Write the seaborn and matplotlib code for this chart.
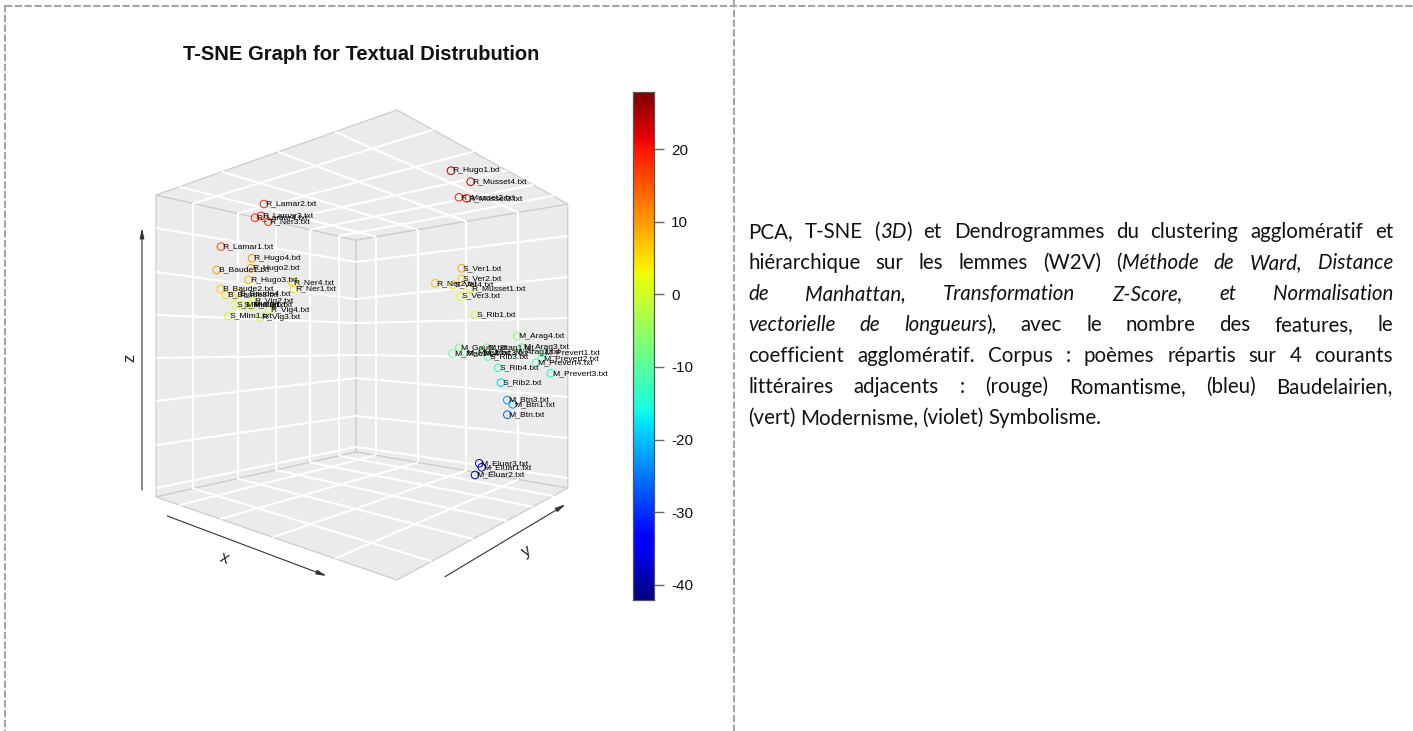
import matplotlib
matplotlib.use("Agg")
import matplotlib.pyplot as plt
import numpy as np
import pandas as pd
import seaborn as sns
from matplotlib.patches import Polygon

# ---------------- data (projected position on the page, t-SNE colour value)
labels = ["R_Lamar2.txt","R_Lamar4.txt","R_Lamar3.txt","R_Ner3.txt","R_Lamar1.txt","R_Hugo4.txt","R_Hugo2.txt",
          "B_Baude1.txt","R_Hugo3.txt","R_Ner4.txt","R_Ner1.txt","B_Baude2.txt","B_Baude3.txt","B_Baude4.txt",
          "R_Vig2.txt","S_Mlm2.txt","S_Mlm3.txt","R_Vig1.txt","R_Vig4.txt","S_Mlm1.txt","R_Vig3.txt",
          "R_Hugo1.txt","R_Musset4.txt","R_Musset2.txt","R_Musset3.txt","S_Ver1.txt","S_Ver2.txt","R_Ner2.txt",
          "S_Ver4.txt","R_Musset1.txt","S_Ver3.txt","S_Rib1.txt","M_Arag4.txt","M_Gaut1.txt","M_Btan1.txt",
          "M_Arag3.txt","M_Mac1.txt","M_Mac2.txt","M_Mac3.txt","S_Rib3.txt","M_Arag2.txt","M_Prevert1.txt",
          "M_Prevert2.txt","M_Prevert4.txt","S_Rib4.txt","M_Prevert3.txt","S_Rib2.txt","M_Btn3.txt","M_Btn1.txt",
          "M_Btn.txt","M_Eluar3.txt","M_Eluar1.txt","M_Eluar2.txt"]
proj_x = [264,255,261,268.3,221,252,251,216.7,248.7,292.3,294.3,220.7,226,238,253.3,235,242.7,251.7,269,228.3,260,
          451,470.7,459,466.7,461.7,461.7,435.3,453.3,470,460.7,475,517.3,459.3,486.7,521.7,452.7,465,481.7,488,513,
          543,541.7,536,498.3,550.7,501,507.3,512.7,507.3,479.3,481.7,475]
proj_y = [204,217.7,216,221.7,246.7,258.3,268.3,270,280,282.3,289,289,295,293.3,301.7,304.3,305,305.7,310.3,316,317.3,
          170.7,181.7,197.3,198.3,268.3,279,283.3,285,289,296,315,336,347.7,347.7,347.7,353.3,352.3,352.3,356.7,352,
          353,358.3,362.7,367.7,373.3,382.7,400,404.3,414.7,463.3,467.3,475]
tsne_value = [19,19,20,18,16,11,10,10,8,6,5,6,5,5,2,2,2,1,0,0,-1,
              25,24,19,20,9,7,7,5,5,2,0,-6,-8,-8,-8,-9,-9,-9,-10,-9,
              -10,-11,-13,-15,-16,-19,-23,-24,-27,-37,-38,-38]
cbar_ticks = [-40,-30,-20,-10,0,10,20]
cbar_range = (-42.1,27.85)

title = "T-SNE Graph for Textual Distrubution"
paragraph = [
    [("PCA,",0),("T-SNE",0),("(",0,"tight"),("3D",1,"tight"),(")",0),("et",0),("Dendrogrammes",0),("du",0),("clustering",0),("agglomératif",0),("et",0)],
    [("hiérarchique",0),("sur",0),("les",0),("lemmes",0),("(W2V)",0),("(",0,"tight"),("Méthode",1),("de",1),("Ward,",1),("Distance",1)],
    [("de",1),("Manhattan,",1),("Transformation",1),("Z-Score,",1),("et",1),("Normalisation",1)],
    [("vectorielle",1),("de",1),("longueurs",1,"tight"),("),",0),("avec",0),("le",0),("nombre",0),("des",0),("features,",0),("le",0)],
    [("coefficient",0),("agglomératif.",0),("Corpus",0),(":",0),("poèmes",0),("répartis",0),("sur",0),("4",0),("courants",0)],
    [("littéraires",0),("adjacents",0),(":",0),("(rouge)",0),("Romantisme,",0),("(bleu)",0),("Baudelairien,",0)],
    [("(vert)",0),("Modernisme,",0),("(violet)",0),("Symbolisme.",0)],
]

# box geometry of the 3D frame, as seen on the page
L_top, B_top, R_top, F_top = (156,195), (356,240), (567.7,204), (397,110)
L_bot, B_bot, R_bot, F_bot = (156,497), (356,452), (567.7,488), (397,580)
left_h = [(228,262),(272,299),(315,323),(358,355),(401,378),(445,416),(488,447)]
right_h = [(262,236),(299,277),(323,318),(355,358),(378,397),(416,438),(447,478)]
left_v = [193.3,237.7,275.7,310,339]
right_v = [375.7,417.7,465.7,518.3]
floor_fl = [179.3,220,272.7,335]
floor_fr = [431.7,473,506.7,533,553]
roof_fl = [179.3,221.7,278,335]
roof_fr = [433,473,507,533,553]

sns.set_theme(style="white")
plt.rcParams["font.family"] = ["Liberation Sans", "DejaVu Sans"]

fig = plt.figure(figsize=(14.13,7.31), dpi=100)
ax = fig.add_axes([0,0,1,1])

def on_edge(p, q, x):
    t = (x-p[0])/(q[0]-p[0])
    return (x, p[1]+t*(q[1]-p[1]))

GRID = dict(color="white", lw=1.5, zorder=2, solid_capstyle="butt")
for poly in ([L_top,B_top,B_bot,L_bot],[B_top,R_top,R_bot,B_bot],[L_bot,B_bot,R_bot,F_bot],[L_top,F_top,R_top,B_top]):
    ax.add_patch(Polygon(poly, closed=True, fc="#EBEBEB", ec="#CCCCCC", lw=0.9, zorder=1))

for a,b in left_h:
    ax.plot([L_top[0],B_top[0]],[a,b],**GRID)
for a,b in right_h:
    ax.plot([B_top[0],R_top[0]],[a,b],**GRID)
for x in left_v:
    t,bm = on_edge(L_top,B_top,x), on_edge(L_bot,B_bot,x)
    ax.plot([x,x],[t[1],bm[1]],**GRID)
for x in right_v:
    t,bm = on_edge(B_top,R_top,x), on_edge(B_bot,R_bot,x)
    ax.plot([x,x],[t[1],bm[1]],**GRID)
for xa,xb in zip(floor_fl,right_v):
    a,b = on_edge(L_bot,F_bot,xa), on_edge(B_bot,R_bot,xb)
    ax.plot([a[0],b[0]],[a[1],b[1]],**GRID)
for xa,xb in zip(left_v,floor_fr):
    a,b = on_edge(L_bot,B_bot,xa), on_edge(F_bot,R_bot,xb)
    ax.plot([a[0],b[0]],[a[1],b[1]],**GRID)
for xa,xb in zip(roof_fl,right_v):
    a,b = on_edge(L_top,F_top,xa), on_edge(B_top,R_top,xb)
    ax.plot([a[0],b[0]],[a[1],b[1]],**GRID)
for xa,xb in zip(left_v,roof_fr):
    a,b = on_edge(L_top,B_top,xa), on_edge(F_top,R_top,xb)
    ax.plot([a[0],b[0]],[a[1],b[1]],**GRID)

# points
df = pd.DataFrame({"x":proj_x,"y":proj_y,"value":tsne_value,"label":labels})
sns.scatterplot(data=df, x="x", y="y", hue="value", palette=matplotlib.colormaps["jet"], hue_norm=cbar_range,
                s=30, linewidth=0.7, legend=False, ax=ax, zorder=4)
pts = ax.collections[-1]
cols = pts.get_facecolors()
pts.set_edgecolors(cols)
pts.set_facecolors("none")
for _,r in df.iterrows():
    ax.annotate(r["label"], (r["x"],r["y"]), xytext=(0.8,0), textcoords="offset points",
                ha="left", va="center", fontsize=6.1, color="black", zorder=5)

# axis arrows
ARW = dict(arrowstyle="-|>,head_length=0.5,head_width=0.11", color="#333333", lw=0.8, shrinkA=0, shrinkB=0)
ax.annotate("", xy=(142,228), xytext=(142,490), arrowprops=ARW)
ax.annotate("", xy=(326.7,576), xytext=(167.3,516), arrowprops=ARW)
ax.annotate("", xy=(565.7,504.3), xytext=(445,576.7), arrowprops=ARW)
ax.text(224,558,"x",rotation=-21,ha="center",va="center",fontsize=12,color="#222222")
ax.text(527,551,"y",rotation=31,ha="center",va="center",fontsize=12,color="#222222")
ax.text(130,358,"z",rotation=90,ha="center",va="center",fontsize=12,color="#222222")

ax.text(361.5,54,title,ha="center",va="center",fontsize=14.5,fontweight="bold",color="#111111")

# page frame
FRAME = dict(color="#A6A6A6", lw=1.5, ls=(0,(3.5,1.2)), zorder=1)
ax.plot([5,1413],[5.5,5.5],**FRAME)
ax.plot([5,5],[5,731],**FRAME)
ax.plot([734,734],[0,731],**FRAME)

ax.set_xlim(0,1413); ax.set_ylim(731,0)
ax.set_axis_off()

# colour bar
W,H = 1413,731
cax = fig.add_axes([632.7/W, 1-600/H, 21/W, 508/H])
grad = np.linspace(cbar_range[1],cbar_range[0],256).reshape(-1,1)
cax.imshow(grad, aspect="auto", cmap="jet", vmin=cbar_range[0], vmax=cbar_range[1],
           extent=[0,1,cbar_range[0],cbar_range[1]])
cax.set_xticks([])
cax.yaxis.tick_right()
cax.set_yticks(cbar_ticks)
cax.set_yticklabels([str(t) for t in cbar_ticks])
cax.tick_params(axis="y", length=7.2, width=1.0, color="#666666", pad=5.5, labelsize=11, labelcolor="#111111")
for s in cax.spines.values():
    s.set_color("#555555"); s.set_linewidth(0.9)

# justified paragraph
fig.canvas.draw()
rend = fig.canvas.get_renderer()
FS = 14.8
LEFT, RIGHT = 748, 1393
def width(word, it):
    t = ax.text(0,0,word,fontsize=FS,family="Lato",style="italic" if it else "normal")
    w = t.get_window_extent(rend).width
    t.remove()
    return w
for i,line in enumerate(paragraph):
    y = 232+31*i
    ws = [width(w[0],w[1]) for w in line]
    gaps = [0 if len(w)>2 else 1 for w in line[:-1]]
    if i < len(paragraph)-1:
        gap = (RIGHT-LEFT-sum(ws))/max(sum(gaps),1)
    else:
        gap = FS*1.39*0.22
    x = LEFT
    for w,wd,g in zip(line,ws,gaps+[0]):
        ax.text(x,y,w[0],fontsize=FS,family="Lato",style="italic" if w[1] else "normal",
                ha="left",va="center",color="#111111")
        x += wd+g*gap

fig.savefig("out.png", dpi=100)
